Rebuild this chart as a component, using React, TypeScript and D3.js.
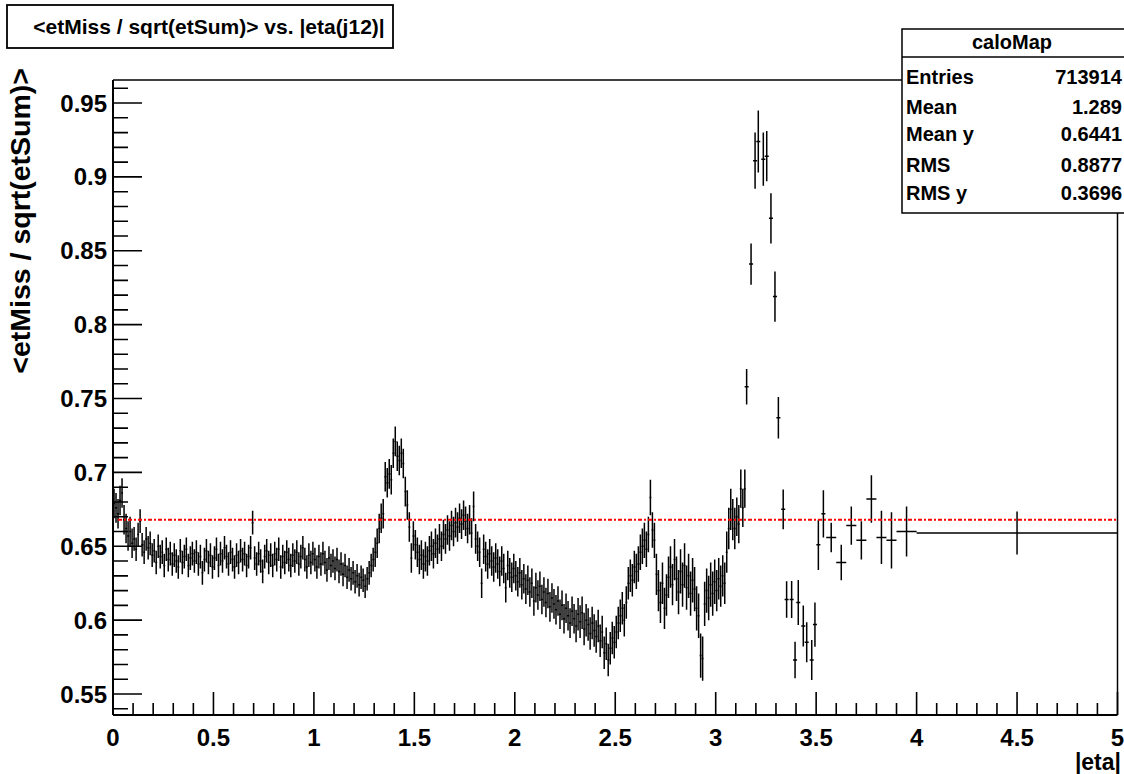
import React from "react";
import * as d3 from "d3";

// Profile <etMiss/sqrt(etSum)> in fine |eta| bins of width 0.01, starting at 0
const fineStart = 0;
const fineWidth = 0.01;
const fineValues = [
  0.679, 0.676, 0.672, 0.681, 0.686, 0.668, 0.662, 0.657, 0.660, 0.652,
  0.655, 0.648, 0.658, 0.667, 0.651, 0.646, 0.655, 0.649, 0.652, 0.644,
  0.647, 0.639, 0.650, 0.643, 0.646, 0.637, 0.648, 0.641, 0.645, 0.638,
  0.644, 0.640, 0.636, 0.647, 0.639, 0.643, 0.648, 0.637, 0.642, 0.645,
  0.640, 0.646, 0.638, 0.643, 0.632, 0.641, 0.647, 0.639, 0.644, 0.636,
  0.642, 0.648, 0.637, 0.645, 0.640, 0.649, 0.643, 0.638, 0.646, 0.641,
  0.636, 0.644, 0.639, 0.647, 0.641, 0.645, 0.637, 0.643, 0.649, 0.666,
  0.642, 0.638, 0.645, 0.640, 0.633, 0.643, 0.647, 0.639, 0.644, 0.637,
  0.645, 0.641, 0.648, 0.636, 0.643, 0.639, 0.646, 0.641, 0.637, 0.644,
  0.640, 0.646, 0.638, 0.643, 0.649, 0.641, 0.636, 0.644, 0.639, 0.645,
  0.641, 0.636, 0.643, 0.638, 0.645, 0.639, 0.634, 0.642, 0.637, 0.640,
  0.635, 0.641, 0.633, 0.638, 0.631, 0.637, 0.629, 0.634, 0.628, 0.632,
  0.626, 0.630, 0.624, 0.629, 0.627, 0.623, 0.628, 0.632, 0.637, 0.641,
  0.646, 0.652, 0.662, 0.669, 0.672, 0.697, 0.693, 0.699, 0.695, 0.713,
  0.721, 0.711, 0.708, 0.713, 0.706, 0.687, 0.678, 0.663, 0.642, 0.657,
  0.651, 0.646, 0.641, 0.644, 0.638, 0.643, 0.640, 0.647, 0.650, 0.645,
  0.652, 0.648, 0.655, 0.650, 0.658, 0.655, 0.661, 0.657, 0.664, 0.660,
  0.666, 0.663, 0.669, 0.665, 0.671, 0.667, 0.662, 0.668, 0.659, 0.677,
  0.655, 0.650, 0.646, 0.625, 0.648, 0.643, 0.638, 0.645, 0.640, 0.636,
  0.642, 0.638, 0.633, 0.640, 0.635, 0.622, 0.637, 0.632, 0.629, 0.635,
  0.630, 0.626, 0.632, 0.624, 0.628, 0.621, 0.627, 0.619, 0.625, 0.613,
  0.622, 0.617, 0.623, 0.614, 0.619, 0.612, 0.618, 0.609, 0.615, 0.611,
  0.607, 0.613, 0.604, 0.610, 0.601, 0.608, 0.603, 0.598, 0.606, 0.601,
  0.596, 0.604, 0.599, 0.605, 0.594, 0.600, 0.597, 0.591, 0.598, 0.593,
  0.589, 0.596, 0.586, 0.592, 0.578, 0.584, 0.573, 0.581, 0.588, 0.585,
  0.592, 0.598, 0.603, 0.608, 0.600, 0.612, 0.625, 0.630, 0.627, 0.636,
  0.633, 0.638, 0.646, 0.650, 0.654, 0.648, 0.658, 0.683, 0.661, 0.654,
  0.631, 0.620, 0.612, 0.625, 0.608, 0.617, 0.629, 0.636, 0.624, 0.641,
  0.628, 0.619, 0.633, 0.624, 0.637, 0.622, 0.630, 0.618, 0.627, 0.621,
  0.608, 0.603, 0.576, 0.574, 0.611, 0.620, 0.615, 0.624, 0.618, 0.626,
  0.620, 0.628, 0.623, 0.630, 0.625, 0.646, 0.662, 0.675, 0.668, 0.662,
  0.670, 0.665, 0.689, 0.676, 0.689,
];
// Typical error on the mean for each 0.1 slice of |eta| in the fine region
const fineSliceErrors = [
  0.010, 0.008, 0.008, 0.008, 0.008, 0.008, 0.008, 0.008, 0.008, 0.008,
  0.008, 0.008, 0.008, 0.010, 0.010, 0.010, 0.010, 0.010, 0.010, 0.010,
  0.010, 0.010, 0.010, 0.011, 0.011, 0.011, 0.012, 0.014, 0.015, 0.015,
  0.014, 0.013,
];

// Forward region: coarser bins (centre, width, mean, error)
const fwdEta = [
  3.154, 3.176, 3.196, 3.212, 3.237, 3.254, 3.275, 3.295, 3.312, 3.336,
  3.353, 3.378, 3.395, 3.411, 3.436, 3.453, 3.478, 3.494, 3.511, 3.536,
  3.575, 3.625, 3.675, 3.725, 3.775, 3.825, 3.875, 3.95, 4.5,
];
const fwdWidth = [
  0.02, 0.02, 0.02, 0.02, 0.02, 0.02, 0.02, 0.02, 0.02, 0.02,
  0.02, 0.02, 0.02, 0.02, 0.02, 0.02, 0.02, 0.02, 0.02, 0.02,
  0.05, 0.05, 0.05, 0.05, 0.05, 0.05, 0.05, 0.1, 1.0,
];
const fwdValues = [
  0.758, 0.841, 0.911, 0.924, 0.912, 0.914, 0.872, 0.819, 0.737, 0.675,
  0.614, 0.614, 0.573, 0.612, 0.596, 0.585, 0.573, 0.597, 0.651, 0.672,
  0.656, 0.639, 0.664, 0.654, 0.682, 0.656, 0.654, 0.660, 0.659,
];
const fwdErrors = [
  0.012, 0.014, 0.019, 0.021, 0.018, 0.017, 0.017, 0.017, 0.014, 0.0135,
  0.0124, 0.0125, 0.0124, 0.0152, 0.0139, 0.0135, 0.0135, 0.015, 0.017, 0.016,
  0.010, 0.012, 0.013, 0.013, 0.016, 0.018, 0.019, 0.017, 0.0145,
];

// Constant fit result
const fitValue = 0.668;
const fitRange = [0.025, 5];

// Axes
const xDomain = [0, 5];
const yDomain = [0.5358, 0.9656];
const xMajorTicks = [0, 0.5, 1, 1.5, 2, 2.5, 3, 3.5, 4, 4.5, 5];
const xTickLabels = ["0", "0.5", "1", "1.5", "2", "2.5", "3", "3.5", "4", "4.5", "5"];
const yMajorTicks = [0.55, 0.6, 0.65, 0.7, 0.75, 0.8, 0.85, 0.9, 0.95];
const yTickLabels = ["0.55", "0.6", "0.65", "0.7", "0.75", "0.8", "0.85", "0.9", "0.95"];

const titleText = "<etMiss / sqrt(etSum)> vs. |eta(j12)|";
const xTitle = "|eta|";
const yTitle = "<etMiss / sqrt(etSum)>";

// Statistics box
const statsName = "caloMap";
const statLabels = ["Entries", "Mean", "Mean y", "RMS", "RMS y"];
const statValues = ["713914", "1.289", "0.6441", "0.8877", "0.3696"];

const FONT = "'Liberation Sans', Arial, Helvetica, sans-serif";

export default function App() {
  const W = 1124;
  const H = 774;
  const frame = { left: 113, right: 1117.5, top: 80, bottom: 715 };

  const x = d3.scaleLinear().domain(xDomain).range([frame.left, frame.right]);
  const y = d3.scaleLinear().domain(yDomain).range([frame.bottom, frame.top]);

  type Bin = { lo: number; hi: number; v: number; e: number };
  const bins: Bin[] = [];
  fineValues.forEach((v, i) => {
    const lo = fineStart + i * fineWidth;
    bins.push({ lo, hi: lo + fineWidth, v, e: fineSliceErrors[Math.floor(i / 10)] });
  });
  fwdEta.forEach((c, i) => {
    bins.push({ lo: c - fwdWidth[i] / 2, hi: c + fwdWidth[i] / 2, v: fwdValues[i], e: fwdErrors[i] });
  });

  const errPath = d3.path();
  bins.forEach((b) => {
    const xc = x((b.lo + b.hi) / 2);
    const y1 = Math.max(frame.top, y(b.v + b.e));
    const y2 = Math.min(frame.bottom, y(b.v - b.e));
    errPath.moveTo(xc, y1);
    errPath.lineTo(xc, y2);
    errPath.moveTo(x(b.lo), y(b.v));
    errPath.lineTo(x(Math.min(b.hi, xDomain[1])), y(b.v));
  });

  const xMinor = d3.range(0, 50.5, 1).map((k) => k / 10);
  const yMinor = d3
    .range(Math.ceil(yDomain[0] * 100), Math.floor(yDomain[1] * 100) + 1)
    .map((k) => k / 100);

  const tickPath = d3.path();
  xMinor.forEach((t) => {
    const isMajor = xMajorTicks.some((m) => Math.abs(m - t) < 1e-9);
    const len = isMajor ? 23 : 12;
    tickPath.moveTo(x(t), frame.bottom);
    tickPath.lineTo(x(t), frame.bottom - len);
  });
  yMinor.forEach((t) => {
    const isMajor = yMajorTicks.some((m) => Math.abs(m - t) < 1e-9);
    const len = isMajor ? 29 : 15;
    tickPath.moveTo(frame.left, y(t));
    tickPath.lineTo(frame.left + len, y(t));
  });

  const statsBox = { x: 902, y: 29, w: 240, header: 28, h: 184 };
  const rowCenters = [77, 107, 134, 165, 193];

  return (
    <svg
      width={W}
      height={H}
      style={{ position: "absolute", left: 0, top: 0, background: "#fff" }}
      fontFamily={FONT}
      fontWeight="bold"
    >
      <rect x={0} y={0} width={W} height={H} fill="#fff" />

      {/* frame */}
      <line x1={frame.left} y1={frame.top} x2={frame.right} y2={frame.top} stroke="#000" strokeWidth={1.5} />
      <line x1={frame.right} y1={frame.top} x2={frame.right} y2={frame.bottom} stroke="#000" strokeWidth={1.5} />

      {/* data points with error bars */}
      <path d={errPath.toString()} stroke="#000" strokeWidth={1.5} fill="none" />

      {/* constant fit */}
      <line
        x1={x(fitRange[0])}
        x2={x(fitRange[1])}
        y1={y(fitValue)}
        y2={y(fitValue)}
        stroke="#ff0000"
        strokeWidth={2}
        strokeDasharray="4 2 2 2"
      />

      {/* axes */}
      <line x1={frame.left} y1={frame.bottom} x2={frame.right} y2={frame.bottom} stroke="#000" strokeWidth={2} />
      <line x1={frame.left} y1={frame.top} x2={frame.left} y2={frame.bottom} stroke="#000" strokeWidth={2} />
      <path d={tickPath.toString()} stroke="#000" strokeWidth={1.6} fill="none" />

      {xMajorTicks.map((t, i) => (
        <text key={"xl" + i} x={x(t)} y={746} textAnchor="middle" fontSize={24} fill="#000">
          {xTickLabels[i]}
        </text>
      ))}
      {yMajorTicks.map((t, i) => (
        <text key={"yl" + i} x={107} y={y(t) + 8.5} textAnchor="end" fontSize={24} fill="#000">
          {yTickLabels[i]}
        </text>
      ))}

      <text x={1121} y={770} textAnchor="end" fontSize={23} fill="#000">
        {xTitle}
      </text>
      <text
        transform={`translate(30,68) rotate(-90)`}
        textAnchor="end"
        fontSize={28.5}
        fill="#000"
      >
        {yTitle}
      </text>

      {/* title */}
      <rect x={7} y={5} width={386} height={43} fill="#fff" stroke="#000" strokeWidth={1.8} />
      <text x={209} y={34} textAnchor="middle" fontSize={21} fill="#000">
        {titleText}
      </text>

      {/* statistics box */}
      <rect
        x={statsBox.x}
        y={statsBox.y}
        width={statsBox.w}
        height={statsBox.h}
        fill="#fff"
        stroke="#000"
        strokeWidth={1.5}
      />
      <line
        x1={statsBox.x}
        x2={statsBox.x + statsBox.w}
        y1={statsBox.y + statsBox.header}
        y2={statsBox.y + statsBox.header}
        stroke="#000"
        strokeWidth={1.5}
      />
      <text x={1012} y={49} textAnchor="middle" fontSize={20} fill="#000">
        {statsName}
      </text>
      {statLabels.map((lab, i) => (
        <g key={"st" + i}>
          <text x={906} y={rowCenters[i] + 7} fontSize={20} fill="#000">
            {lab}
          </text>
          <text x={1122} y={rowCenters[i] + 7} textAnchor="end" fontSize={20} fill="#000">
            {statValues[i]}
          </text>
        </g>
      ))}
    </svg>
  );
}
